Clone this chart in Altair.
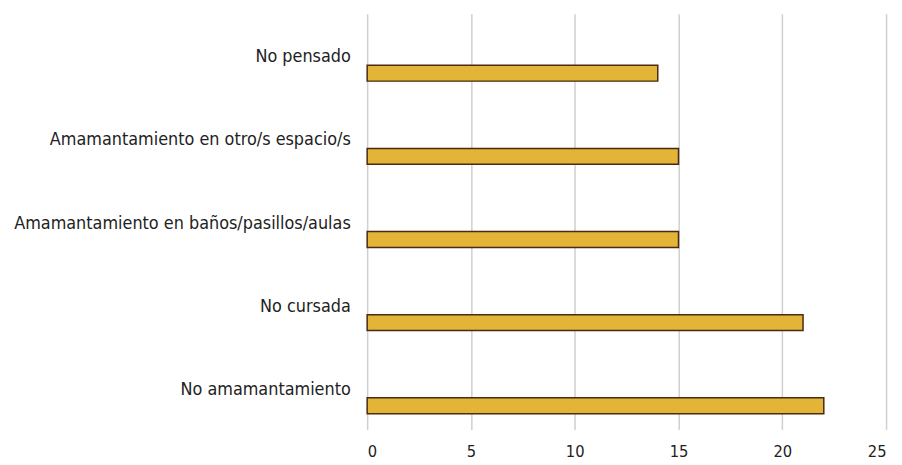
import altair as alt
import pandas as pd

categories = [
    "No pensado",
    "Amamantamiento en otro/s espacio/s",
    "Amamantamiento en baños/pasillos/aulas",
    "No cursada",
    "No amamantamiento",
]
values = [14, 15, 15, 21, 22]

df = pd.DataFrame({"cat": categories, "val": values})

FONT = "DejaVu Sans Condensed"

bars = alt.Chart(df).mark_bar(
    height=16, yOffset=18, fill="#E2B437", stroke="#4A2A12", strokeWidth=1.5
).encode(
    x=alt.X("val:Q", scale=alt.Scale(domain=[0, 25]),
            axis=alt.Axis(values=[0, 5, 10, 15, 20, 25], title=None, grid=True,
                          gridColor="#CFCFCF", gridWidth=1.5, domain=False,
                          ticks=False, labelPadding=14, labelFontSize=16.5,
                          labelColor="#222222", labelFont=FONT)),
    y=alt.Y("cat:N", sort=categories,
            scale=alt.Scale(paddingInner=0, paddingOuter=0),
            axis=alt.Axis(title=None, domain=False, ticks=False, grid=False,
                          labelPadding=17, labelOffset=2, labelFontSize=18,
                          labelColor="#222222", labelFont=FONT, labelLimit=400)),
)

chart = bars.properties(
    width=523, height=419,
    autosize=alt.AutoSizeParams(type="none"),
    padding={"left": 362, "top": 4, "right": 8, "bottom": 34},
).configure_view(stroke=None)

chart.save("out.html", embed_options={"renderer": "svg", "actions": False})
